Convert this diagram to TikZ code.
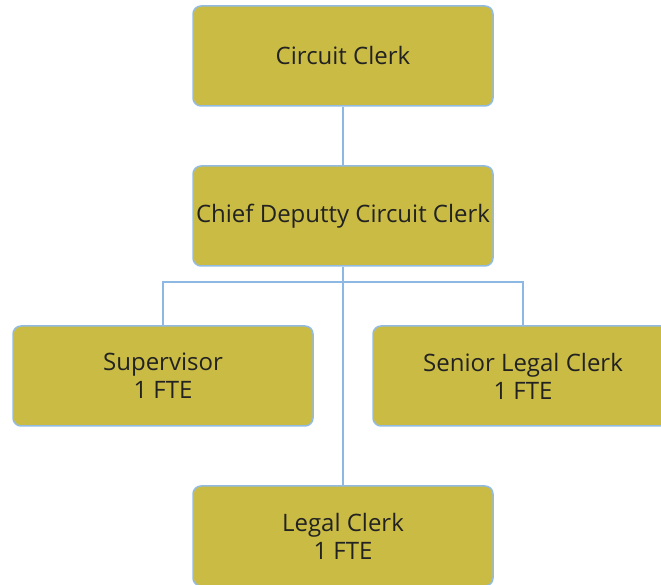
\documentclass[tikz,border=0pt]{standalone}
\usepackage{fontspec}
\setmainfont{Open Sans}
\usetikzlibrary{positioning}
\definecolor{cgold}{HTML}{CABB44}
\definecolor{cedge}{HTML}{92BBE2}
\definecolor{cline}{HTML}{8DB8E4}
\definecolor{ctext}{HTML}{222222}
\tikzset{
  every picture/.style={font=\fontsize{24}{28}\selectfont},
  post/.style={draw=cedge, fill=cgold, rounded corners=8pt, line width=1.5pt, align=center, text=ctext,
    minimum width=300pt, minimum height=100pt, inner sep=0pt},
  link/.style={draw=cline, line width=1.5pt},
}
\begin{document}
\begin{tikzpicture}[x=1pt, y=1pt]
  \useasboundingbox (0,0) rectangle (661,585);
  \clip (0,0) rectangle (661,585);
  % top of the chart
  \node[post] (clerk) at (343, 529) {Circuit Clerk};
  \node[post] (chief) at (343, 369) {Chief Deputty Circuit Clerk};
  % staff
  \node[post] (super) at (163, 209) {Supervisor\\1 FTE};
  \node[post] (senior) at (523, 209) {Senior Legal Clerk\\1 FTE};
  \node[post] (legal) at (343, 49) {Legal Clerk\\1 FTE};
  \coordinate (bar) at (343, 303);
  \draw[link] (clerk) -- (chief);
  \draw[link] (chief) -- (legal);
  \draw[link] (super.north) |- (bar) -| (senior.north);
\end{tikzpicture}
\end{document}
